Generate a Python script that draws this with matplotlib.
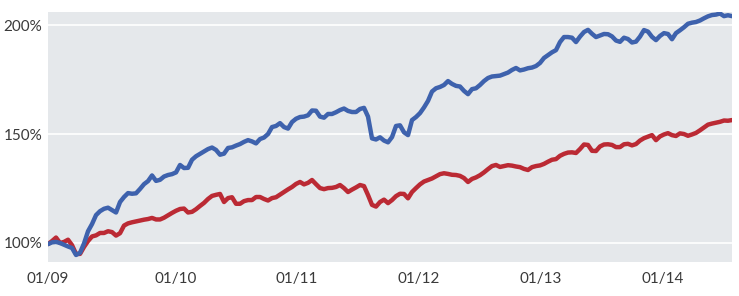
import numpy as np
import pandas as pd
import matplotlib
matplotlib.use('Agg')
import matplotlib.pyplot as plt

# даты отсчетов (шаг 12 дней)
dates = pd.date_range('2008-12-15', periods=172, freq='12D')

# синяя линия, %
blue = [99.5, 100.3, 100.5, 100, 99.2, 98.4, 97.7, 94.5, 95.5, 99.8,
        105.4, 108.7, 112.8, 114.6, 115.7, 116.2, 115.1, 114, 118.8, 121.1,
        122.9, 122.6, 122.8, 124.8, 127, 128.4, 131, 128.5, 129, 130.5,
        131.2, 131.6, 132.4, 135.8, 134.4, 134.5, 138.2, 139.8, 140.9, 142,
        143.1, 143.8, 142.7, 140.5, 141, 143.6, 143.9, 144.7, 145.4, 146.4,
        147.2, 146.6, 145.7, 147.7, 148.4, 150, 153.2, 153.7, 155, 153.2,
        152.5, 155.5, 157, 157.8, 158, 158.6, 160.8, 160.7, 158, 157.5,
        159.2, 159.2, 160, 161, 161.7, 160.6, 160.1, 160.1, 161.5, 162,
        158, 148, 147.5, 148.5, 147, 146.2, 148.6, 153.7, 154, 150.8,
        149.5, 156.4, 157.8, 159.6, 162.2, 165.2, 169.5, 171, 171.6, 172.5,
        174.3, 173, 172.1, 171.8, 169.8, 168.3, 170.6, 171, 172.5, 174.3,
        175.7, 176.4, 176.6, 176.8, 177.5, 178.2, 179.4, 180.3, 179.2, 179.6,
        180.2, 180.5, 181.2, 182.6, 184.9, 186.2, 187.5, 188.5, 192.2, 194.5,
        194.5, 194.2, 192.2, 194.7, 196.8, 197.8, 196, 194.5, 195.2, 195.9,
        195.8, 194.8, 192.9, 192.3, 194.2, 193.6, 192, 192.4, 194.7, 197.7,
        197, 194.6, 193.1, 195, 196.3, 195.9, 193.5, 196.3, 197.6, 199,
        200.6, 201.1, 201.4, 202.1, 203.1, 204, 204.6, 204.8, 205.3, 204.1,
        204.5, 204.1]

# красная линия, %
red = [99.5, 100.9, 102.5, 100, 100.5, 101.5, 99, 95, 95, 98.2,
       100.9, 103, 103.5, 104.6, 104.6, 105.4, 105, 103.4, 104.5, 108,
       109, 109.5, 109.9, 110.3, 110.7, 111, 111.5, 110.8, 110.8, 111.6,
       112.7, 113.8, 114.8, 115.6, 115.8, 114, 114.3, 115.5, 117, 118.4,
       120.2, 121.6, 122.1, 122.5, 118.8, 120.6, 121, 118, 118, 119.2,
       119.7, 119.7, 121.1, 121.1, 120.2, 119.5, 120.6, 121, 122.2, 123.4,
       124.6, 125.7, 127.1, 128, 126.9, 127.6, 128.9, 127, 125.2, 124.7,
       125.2, 125.3, 125.7, 126.6, 125.2, 123.4, 124.5, 125.5, 126.6, 126.1,
       122, 117.5, 116.7, 118.8, 119.9, 118.3, 119.7, 121.5, 122.6, 122.5,
       120.5, 123.4, 125.2, 126.9, 128.2, 128.9, 129.6, 130.6, 131.6, 132,
       131.7, 131.3, 131.2, 130.8, 129.8, 128, 129.4, 130.1, 131.1, 132.4,
       133.9, 135.3, 135.8, 134.9, 135.3, 135.7, 135.5, 135.1, 134.8, 134,
       133.5, 134.8, 135.3, 135.6, 136.3, 137.3, 138.2, 138.5, 140, 140.9,
       141.5, 141.6, 141.3, 143.1, 145.2, 145, 142.3, 142.2, 144.3, 145.2,
       145.3, 145, 144, 144, 145.3, 145.5, 144.8, 145.4, 147, 148.1,
       148.8, 149.5, 147.2, 148.9, 149.8, 150.4, 149.5, 149.1, 150.3, 150,
       149.2, 149.8, 150.5, 151.7, 153, 154.3, 154.8, 155.2, 155.6, 156.2,
       156.1, 156.4]

# подписи осей
x_ticks = ['2008-12-15', '2010-01-01', '2011-01-01', '2012-01-01', '2013-01-01', '2014-01-01']
x_labels = ['01/09', '01/10', '01/11', '01/12', '01/13', '01/14']
y_ticks = [100, 150, 200]
y_labels = ['100%', '150%', '200%']

plt.rcParams['font.family'] = ['Lato', 'DejaVu Sans']

fig = plt.figure(figsize=(7.39, 2.96), dpi=100)
ax = fig.add_axes([0.065, 0.115, 0.9255, 0.8445])
ax.set_facecolor('#e5e8eb')

ax.plot(dates, red, color='#bb2a34', lw=3.2, solid_capstyle='round')
ax.plot(dates, blue, color='#3e62ad', lw=3.2, solid_capstyle='round')

ax.set_xlim(dates[0], dates[-1])
ax.set_ylim(91.3, 206)
ax.set_xticks(pd.to_datetime(x_ticks))
ax.set_xticklabels(x_labels)
ax.set_yticks(y_ticks)
ax.set_yticklabels(y_labels)
ax.grid(axis='y', color='white', lw=1.2)
ax.set_axisbelow(True)
ax.tick_params(length=0, labelsize=11, colors='#3a3a3a')
ax.tick_params(axis='x', pad=7)
ax.tick_params(axis='y', pad=4)
for s in ax.spines.values():
    s.set_visible(False)

fig.savefig('out.png', dpi=100)
